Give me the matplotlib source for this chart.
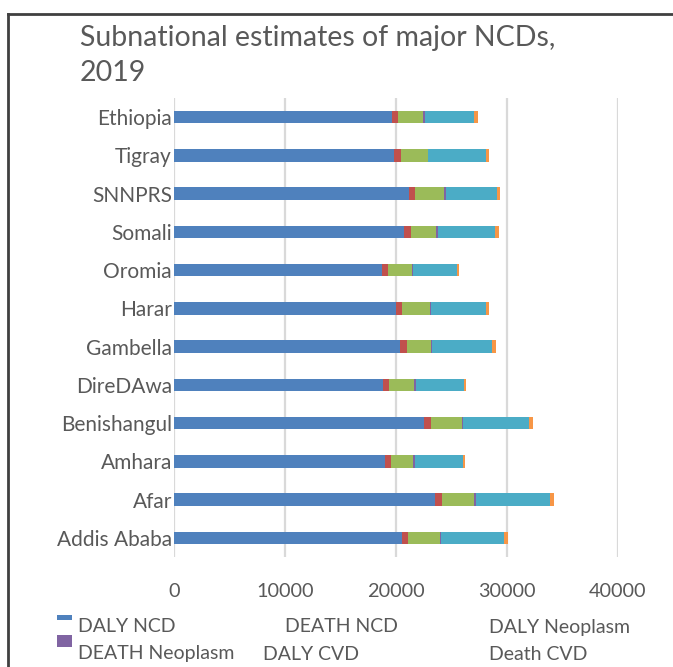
import matplotlib
matplotlib.use("Agg")
import matplotlib.pyplot as plt
from matplotlib.patches import Rectangle
from matplotlib.lines import Line2D
import numpy as np

regions = ['Ethiopia', 'Tigray', 'SNNPRS', 'Somali', 'Oromia', 'Harar', 'Gambella',
           'DireDAwa', 'Benishangul', 'Amhara', 'Afar', 'Addis Ababa']
series_names = ['DALY NCD', 'DEATH NCD', 'DALY Neoplasm', 'DEATH Neoplasm', 'DALY CVD', 'Death CVD']
daly_ncd = [19610, 19820, 21140, 20720, 18710, 20000, 20360, 18830, 22490, 18980, 23480, 20510]
death_ncd = [570, 630, 600, 600, 540, 570, 630, 510, 630, 540, 690, 570]
daly_neo = [2280, 2400, 2580, 2280, 2160, 2460, 2160, 2280, 2830, 2040, 2890, 2880]
death_neo = [120, 60, 150, 150, 150, 150, 120, 150, 120, 120, 120, 120]
daly_cvd = [4480, 5170, 4600, 5140, 3910, 4900, 5410, 4330, 5950, 4330, 6670, 5650]
death_cvd = [300, 330, 330, 390, 240, 330, 360, 240, 320, 240, 360, 330]
x_ticks = [0, 10000, 20000, 30000, 40000]
title = 'Subnational estimates of major NCDs,\n2019'

colors = ['#4F81BD', '#C0504D', '#9BBB59', '#8064A2', '#4BACC6', '#F79646']
txt = '#595959'
plt.rcParams['font.family'] = ['Lato', 'DejaVu Sans']

W, H = 673, 667
fig = plt.figure(figsize=(W / 100, H / 100), dpi=100)
ax = fig.add_axes([174 / W, 1 - 557 / H, 444 / W, 459 / H])

data = [daly_ncd, death_ncd, daly_neo, death_neo, daly_cvd, death_cvd]
y = np.arange(len(regions))
left = np.zeros(len(regions))
for vals, c, name in zip(data, colors, series_names):
    v = np.array(vals, dtype=float)
    ax.barh(y, v, left=left, height=0.33, color=c, label=name, zorder=3)
    left += v

ax.set_ylim(len(regions) - 0.5, -0.5)
ax.set_xlim(0, 40000)
ax.set_xticks(x_ticks)
ax.set_xticklabels([str(t) for t in x_ticks])
ax.set_yticks(y)
ax.set_yticklabels(regions)
ax.tick_params(axis='both', length=0, colors=txt)
ax.tick_params(axis='y', pad=1.5, labelsize=15)
ax.tick_params(axis='x', pad=19, labelsize=14.3)
ax.grid(axis='x', color='#D9D9D9', linewidth=1.6, zorder=0)
for s in ax.spines.values():
    s.set_visible(False)

fig.text(80 / W, 1 - 25 / H, title, fontsize=20.5, color=txt, va='top', ha='left', linespacing=1.45)

# outer frame (top and left edges)
fig.add_artist(Line2D([8 / W, 1], [1 - 14 / H, 1 - 14 / H], transform=fig.transFigure, color='#404040', lw=2))
fig.add_artist(Line2D([8 / W, 8 / W], [0, 1 - 14 / H], transform=fig.transFigure, color='#404040', lw=2))

# legend (Excel-like truncated layout)
leg_pos = [(78, 627), (285, 627), (489, 627), (78, 654), (263, 654), (489, 654)]
for name, (px, py) in zip(series_names, leg_pos):
    fig.text(px / W, 1 - py / H, name, fontsize=14, color=txt, va='center', ha='left')
fig.add_artist(Rectangle((57 / W, 1 - 620 / H), 15 / W, 5 / H, transform=fig.transFigure,
                         color=colors[0], lw=0))
fig.add_artist(Rectangle((57 / W, 1 - 647 / H), 15 / W, 12 / H, transform=fig.transFigure,
                         color=colors[3], lw=0))

fig.savefig('out.png', dpi=100)
